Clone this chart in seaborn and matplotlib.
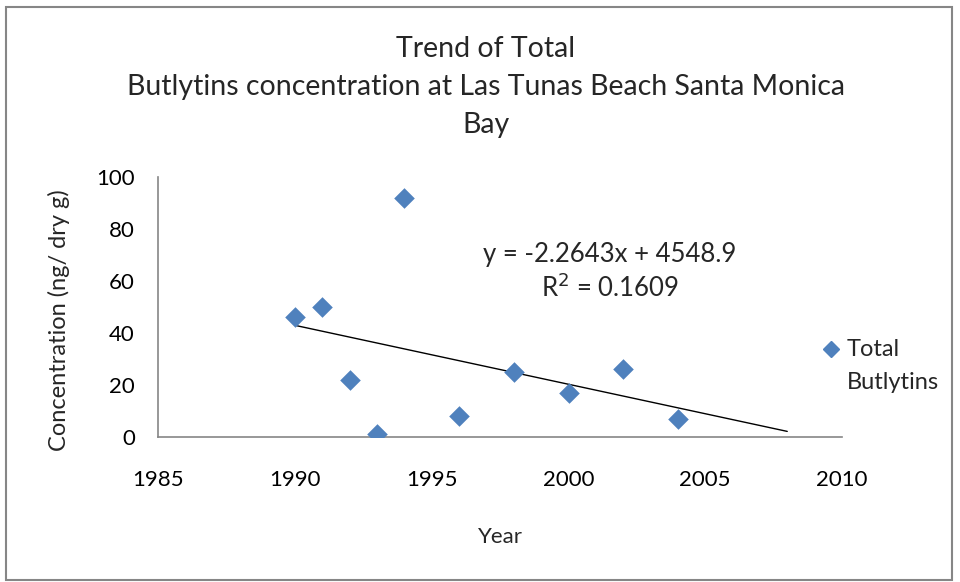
import matplotlib
matplotlib.use("Agg")
import matplotlib.pyplot as plt
import seaborn as sns
import pandas as pd
import numpy as np
from matplotlib.patches import Rectangle

years = [1990, 1991, 1992, 1993, 1994, 1996, 1998, 2000, 2002, 2004]
conc = [46, 50, 22, 1, 92, 8, 25, 17, 26, 7]
slope = -2.2643
intercept = 4548.9
r2 = 0.1609
trend_x = [1990, 2008]
xticks = [1985, 1990, 1995, 2000, 2005, 2010]
yticks = [0, 20, 40, 60, 80, 100]

sns.set_theme(style="white")
plt.rcParams['font.family'] = ['Lato', 'DejaVu Sans']

df = pd.DataFrame({"Year": years, "Conc": conc})
fig = plt.figure(figsize=(9.6, 5.82), dpi=100)
ax = fig.add_axes([0.165, 0.249, 0.712, 0.447])

sns.scatterplot(data=df, x="Year", y="Conc", ax=ax, marker="D", s=110,
                color="#4F81BD", edgecolor="#4F81BD", linewidth=0, zorder=3, legend=False)
tx = np.array(trend_x, dtype=float)
sns.lineplot(x=tx, y=slope * tx + intercept, ax=ax, color="black", linewidth=1.0, zorder=2)

ax.set_xlim(1985, 2010)
ax.set_ylim(0, 100)
ax.set_xticks(xticks)
ax.set_yticks(yticks)
ax.tick_params(axis="both", length=0, labelsize=16, colors="black")
ax.tick_params(axis="x", pad=24)
ax.tick_params(axis="y", pad=17)
for s in ["top", "right"]:
    ax.spines[s].set_visible(False)
for s in ["left", "bottom"]:
    ax.spines[s].set_color("#868686")
    ax.spines[s].set_linewidth(1.2)
ax.set_xlabel("Year", fontsize=16, labelpad=26)
ax.set_ylabel("Concentration (ng/ dry g)", fontsize=17, labelpad=16)
ax.yaxis.set_label_coords(-0.13, 0.45)

ax.text(2001.5, 63.5, "y = -2.2643x + 4548.9\nR$^2$ = 0.1609", ha="center", va="center",
        fontsize=18.5, linespacing=1.25)

fig.text(0.506, 0.8505, "Trend of Total\nButlytins concentration at Las Tunas Beach Santa Monica\nBay",
         ha="center", va="center", fontsize=20.5, linespacing=1.55)

# legend
fig.lines.append(plt.Line2D([0.866], [0.4], marker="D", markersize=8, color="#4F81BD",
                            transform=fig.transFigure, linestyle="none"))
fig.text(0.882, 0.4, "Total", fontsize=17, va="center", ha="left")
fig.text(0.882, 0.342, "Butlytins", fontsize=17, va="center", ha="left")

fig.patches.append(Rectangle((0.006, 0.004), 0.986, 0.984, transform=fig.transFigure,
                             fill=False, edgecolor="#868686", linewidth=1.5))
fig.savefig("out.png", dpi=100)
